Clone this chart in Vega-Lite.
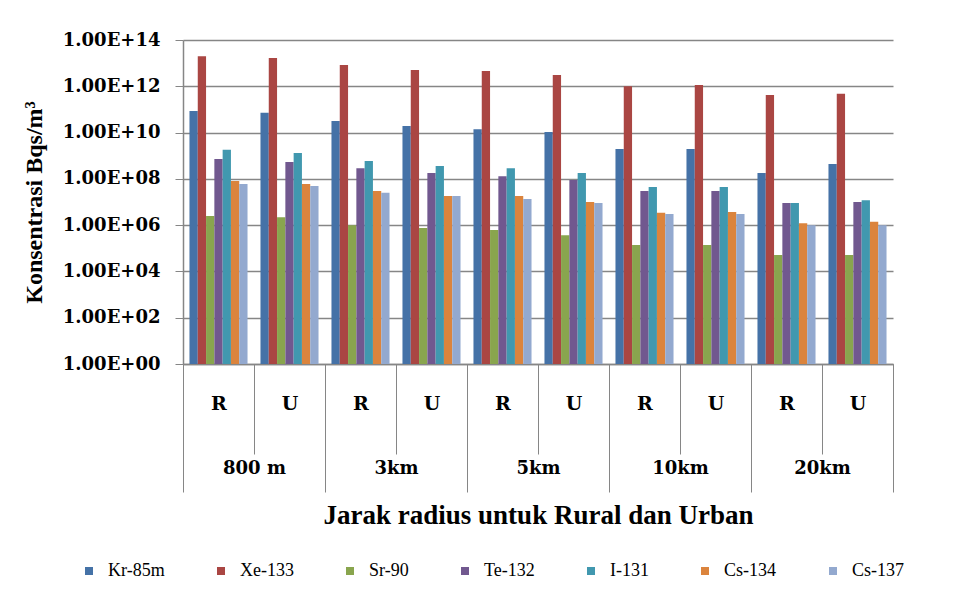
{
  "$schema": "https://vega.github.io/schema/vega-lite/v6.json",
  "width": 710,
  "height": 324,
  "autosize": {"type": "none"},
  "padding": {"left": 183, "top": 40, "right": 67, "bottom": 233},
  "background": "white",
  "config": {"view": {"stroke": null}, "font": "Liberation Serif"},
  "datasets": {
    "konsentrasi": [
      {"jarak": "800 m", "area": "R", "grup": "800 m|R", "nuklida": "Kr-85m", "nilai": 8.5e10},
      {"jarak": "800 m", "area": "R", "grup": "800 m|R", "nuklida": "Xe-133", "nilai": 2.0e13},
      {"jarak": "800 m", "area": "R", "grup": "800 m|R", "nuklida": "Sr-90", "nilai": 2.5e6},
      {"jarak": "800 m", "area": "R", "grup": "800 m|R", "nuklida": "Te-132", "nilai": 7.2e8},
      {"jarak": "800 m", "area": "R", "grup": "800 m|R", "nuklida": "I-131", "nilai": 1.8e9},
      {"jarak": "800 m", "area": "R", "grup": "800 m|R", "nuklida": "Cs-134", "nilai": 8.1e7},
      {"jarak": "800 m", "area": "R", "grup": "800 m|R", "nuklida": "Cs-137", "nilai": 6.0e7},
      {"jarak": "800 m", "area": "U", "grup": "800 m|U", "nuklida": "Kr-85m", "nilai": 7.1e10},
      {"jarak": "800 m", "area": "U", "grup": "800 m|U", "nuklida": "Xe-133", "nilai": 1.67e13},
      {"jarak": "800 m", "area": "U", "grup": "800 m|U", "nuklida": "Sr-90", "nilai": 2.2e6},
      {"jarak": "800 m", "area": "U", "grup": "800 m|U", "nuklida": "Te-132", "nilai": 5.4e8},
      {"jarak": "800 m", "area": "U", "grup": "800 m|U", "nuklida": "I-131", "nilai": 1.3e9},
      {"jarak": "800 m", "area": "U", "grup": "800 m|U", "nuklida": "Cs-134", "nilai": 6.0e7},
      {"jarak": "800 m", "area": "U", "grup": "800 m|U", "nuklida": "Cs-137", "nilai": 4.9e7},
      {"jarak": "3km", "area": "R", "grup": "3km|R", "nuklida": "Kr-85m", "nilai": 3.2e10},
      {"jarak": "3km", "area": "R", "grup": "3km|R", "nuklida": "Xe-133", "nilai": 8.3e12},
      {"jarak": "3km", "area": "R", "grup": "3km|R", "nuklida": "Sr-90", "nilai": 1.0e6},
      {"jarak": "3km", "area": "R", "grup": "3km|R", "nuklida": "Te-132", "nilai": 2.9e8},
      {"jarak": "3km", "area": "R", "grup": "3km|R", "nuklida": "I-131", "nilai": 5.9e8},
      {"jarak": "3km", "area": "R", "grup": "3km|R", "nuklida": "Cs-134", "nilai": 3.0e7},
      {"jarak": "3km", "area": "R", "grup": "3km|R", "nuklida": "Cs-137", "nilai": 2.5e7},
      {"jarak": "3km", "area": "U", "grup": "3km|U", "nuklida": "Kr-85m", "nilai": 1.9e10},
      {"jarak": "3km", "area": "U", "grup": "3km|U", "nuklida": "Xe-133", "nilai": 5.1e12},
      {"jarak": "3km", "area": "U", "grup": "3km|U", "nuklida": "Sr-90", "nilai": 7.6e5},
      {"jarak": "3km", "area": "U", "grup": "3km|U", "nuklida": "Te-132", "nilai": 1.8e8},
      {"jarak": "3km", "area": "U", "grup": "3km|U", "nuklida": "I-131", "nilai": 3.6e8},
      {"jarak": "3km", "area": "U", "grup": "3km|U", "nuklida": "Cs-134", "nilai": 1.8e7},
      {"jarak": "3km", "area": "U", "grup": "3km|U", "nuklida": "Cs-137", "nilai": 1.8e7},
      {"jarak": "5km", "area": "R", "grup": "5km|R", "nuklida": "Kr-85m", "nilai": 1.4e10},
      {"jarak": "5km", "area": "R", "grup": "5km|R", "nuklida": "Xe-133", "nilai": 4.6e12},
      {"jarak": "5km", "area": "R", "grup": "5km|R", "nuklida": "Sr-90", "nilai": 6.2e5},
      {"jarak": "5km", "area": "R", "grup": "5km|R", "nuklida": "Te-132", "nilai": 1.3e8},
      {"jarak": "5km", "area": "R", "grup": "5km|R", "nuklida": "I-131", "nilai": 2.9e8},
      {"jarak": "5km", "area": "R", "grup": "5km|R", "nuklida": "Cs-134", "nilai": 1.8e7},
      {"jarak": "5km", "area": "R", "grup": "5km|R", "nuklida": "Cs-137", "nilai": 1.35e7},
      {"jarak": "5km", "area": "U", "grup": "5km|U", "nuklida": "Kr-85m", "nilai": 1.07e10},
      {"jarak": "5km", "area": "U", "grup": "5km|U", "nuklida": "Xe-133", "nilai": 3.1e12},
      {"jarak": "5km", "area": "U", "grup": "5km|U", "nuklida": "Sr-90", "nilai": 3.7e5},
      {"jarak": "5km", "area": "U", "grup": "5km|U", "nuklida": "Te-132", "nilai": 8.9e7},
      {"jarak": "5km", "area": "U", "grup": "5km|U", "nuklida": "I-131", "nilai": 1.8e8},
      {"jarak": "5km", "area": "U", "grup": "5km|U", "nuklida": "Cs-134", "nilai": 1.0e7},
      {"jarak": "5km", "area": "U", "grup": "5km|U", "nuklida": "Cs-137", "nilai": 9.1e6},
      {"jarak": "10km", "area": "R", "grup": "10km|R", "nuklida": "Kr-85m", "nilai": 1.95e9},
      {"jarak": "10km", "area": "R", "grup": "10km|R", "nuklida": "Xe-133", "nilai": 1.0e12},
      {"jarak": "10km", "area": "R", "grup": "10km|R", "nuklida": "Sr-90", "nilai": 1.4e5},
      {"jarak": "10km", "area": "R", "grup": "10km|R", "nuklida": "Te-132", "nilai": 3.0e7},
      {"jarak": "10km", "area": "R", "grup": "10km|R", "nuklida": "I-131", "nilai": 4.5e7},
      {"jarak": "10km", "area": "R", "grup": "10km|R", "nuklida": "Cs-134", "nilai": 3.4e6},
      {"jarak": "10km", "area": "R", "grup": "10km|R", "nuklida": "Cs-137", "nilai": 3.0e6},
      {"jarak": "10km", "area": "U", "grup": "10km|U", "nuklida": "Kr-85m", "nilai": 1.95e9},
      {"jarak": "10km", "area": "U", "grup": "10km|U", "nuklida": "Xe-133", "nilai": 1.15e12},
      {"jarak": "10km", "area": "U", "grup": "10km|U", "nuklida": "Sr-90", "nilai": 1.4e5},
      {"jarak": "10km", "area": "U", "grup": "10km|U", "nuklida": "Te-132", "nilai": 3.0e7},
      {"jarak": "10km", "area": "U", "grup": "10km|U", "nuklida": "I-131", "nilai": 4.5e7},
      {"jarak": "10km", "area": "U", "grup": "10km|U", "nuklida": "Cs-134", "nilai": 3.7e6},
      {"jarak": "10km", "area": "U", "grup": "10km|U", "nuklida": "Cs-137", "nilai": 3.0e6},
      {"jarak": "20km", "area": "R", "grup": "20km|R", "nuklida": "Kr-85m", "nilai": 1.8e8},
      {"jarak": "20km", "area": "R", "grup": "20km|R", "nuklida": "Xe-133", "nilai": 4.2e11},
      {"jarak": "20km", "area": "R", "grup": "20km|R", "nuklida": "Sr-90", "nilai": 5.1e4},
      {"jarak": "20km", "area": "R", "grup": "20km|R", "nuklida": "Te-132", "nilai": 9.1e6},
      {"jarak": "20km", "area": "R", "grup": "20km|R", "nuklida": "I-131", "nilai": 9.1e6},
      {"jarak": "20km", "area": "R", "grup": "20km|R", "nuklida": "Cs-134", "nilai": 1.2e6},
      {"jarak": "20km", "area": "R", "grup": "20km|R", "nuklida": "Cs-137", "nilai": 1.0e6},
      {"jarak": "20km", "area": "U", "grup": "20km|U", "nuklida": "Kr-85m", "nilai": 4.4e8},
      {"jarak": "20km", "area": "U", "grup": "20km|U", "nuklida": "Xe-133", "nilai": 4.7e11},
      {"jarak": "20km", "area": "U", "grup": "20km|U", "nuklida": "Sr-90", "nilai": 5.1e4},
      {"jarak": "20km", "area": "U", "grup": "20km|U", "nuklida": "Te-132", "nilai": 1.0e7},
      {"jarak": "20km", "area": "U", "grup": "20km|U", "nuklida": "I-131", "nilai": 1.2e7},
      {"jarak": "20km", "area": "U", "grup": "20km|U", "nuklida": "Cs-134", "nilai": 1.4e6},
      {"jarak": "20km", "area": "U", "grup": "20km|U", "nuklida": "Cs-137", "nilai": 1.0e6}
    ]
  },
  "data": {"name": "konsentrasi"},
  "layer": [
    {
      "mark": {"type": "bar"},
      "encoding": {
        "x": {
          "field": "grup",
          "type": "nominal",
          "sort": ["800 m|R", "800 m|U", "3km|R", "3km|U", "5km|R", "5km|U", "10km|R", "10km|U", "20km|R", "20km|U"],
          "scale": {"paddingInner": 0, "paddingOuter": 0},
          "axis": {
            "title": null,
            "labelExpr": "split(datum.label, '|')[1]",
            "labelAngle": 0,
            "labelFont": "DejaVu Serif",
            "labelFontWeight": "bold",
            "labelFontSize": 19,
            "labelColor": "black",
            "labelBaseline": "middle",
            "labelPadding": -51,
            "tickSize": 90,
            "tickBand": "extent",
            "tickColor": "#868686",
            "tickWidth": 1,
            "domainColor": "#868686",
            "domainWidth": 1.5,
            "grid": false
          }
        },
        "xOffset": {
          "field": "nuklida",
          "type": "nominal",
          "sort": ["Kr-85m", "Xe-133", "Sr-90", "Te-132", "I-131", "Cs-134", "Cs-137"],
          "scale": {"paddingInner": 0, "paddingOuter": 0.78}
        },
        "y": {
          "field": "nilai",
          "type": "quantitative",
          "stack": null,
          "scale": {"type": "log", "domain": [1, 100000000000000], "nice": false},
          "axis": {
            "title": "Konsentrasi Bqs/m³",
            "titleFont": "Liberation Serif",
            "titleFontSize": 24,
            "titleFontWeight": "bold",
            "titleColor": "black",
            "titlePadding": 16,
            "values": [1, 100, 10000, 1000000, 100000000, 10000000000, 1000000000000, 100000000000000],
            "labelExpr": "'1.00E+' + (round(log(datum.value) / LN10) < 10 ? '0' : '') + round(log(datum.value) / LN10)",
            "labelFont": "DejaVu Serif",
            "labelFontWeight": "bold",
            "labelFontSize": 18,
            "labelColor": "black",
            "labelPadding": 15,
            "tickSize": 8,
            "tickColor": "#868686",
            "domainColor": "#868686",
            "domainWidth": 1.5,
            "gridColor": "#868686",
            "gridWidth": 1.5
          }
        },
        "color": {
          "field": "nuklida",
          "type": "nominal",
          "sort": ["Kr-85m", "Xe-133", "Sr-90", "Te-132", "I-131", "Cs-134", "Cs-137"],
          "scale": {
            "domain": ["Kr-85m", "Xe-133", "Sr-90", "Te-132", "I-131", "Cs-134", "Cs-137"],
            "range": ["#4572A7", "#AA4643", "#89A54E", "#71588F", "#4198AF", "#DB843D", "#93A9CF"]
          },
          "legend": {
            "title": null,
            "orient": "none",
            "legendX": -103,
            "legendY": 522,
            "direction": "horizontal",
            "symbolType": "square",
            "symbolSize": 64,
            "symbolStrokeWidth": 0,
            "symbolOpacity": 1,
            "labelFont": "Liberation Serif",
            "labelFontSize": 18,
            "labelColor": "black",
            "labelOffset": 10,
            "columnPadding": 47
          }
        }
      }
    },
    {
      "mark": {"type": "bar", "opacity": 0},
      "encoding": {
        "x": {
          "field": "jarak",
          "type": "nominal",
          "sort": ["800 m", "3km", "5km", "10km", "20km"],
          "scale": {"paddingInner": 0, "paddingOuter": 0},
          "axis": {
            "orient": "bottom",
            "title": "Jarak radius untuk Rural dan Urban",
            "titleFont": "Liberation Serif",
            "titleFontSize": 27,
            "titleFontWeight": "bold",
            "titleColor": "black",
            "titlePadding": 10,
            "labelAngle": 0,
            "labelFont": "DejaVu Serif",
            "labelFontWeight": "bold",
            "labelFontSize": 18,
            "labelColor": "black",
            "labelBaseline": "middle",
            "labelPadding": -24,
            "tickSize": 128,
            "tickBand": "extent",
            "tickColor": "#868686",
            "tickWidth": 1,
            "domain": false,
            "grid": false
          }
        }
      }
    }
  ],
  "resolve": {"scale": {"x": "independent"}}
}
